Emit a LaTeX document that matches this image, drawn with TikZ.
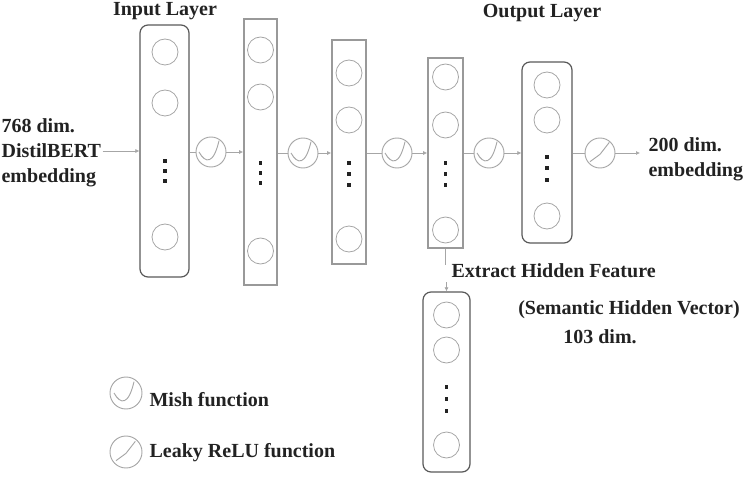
\documentclass[tikz,border=0pt]{standalone}
\usepackage{fontspec}
\setmainfont{Liberation Serif}
\usetikzlibrary{arrows.meta}
\definecolor{ink}{HTML}{222222}
\tikzset{
  lbl/.style={font=\fontsize{15}{18.75}\selectfont\bfseries, text=ink, inner sep=1pt},
  sqbox/.style={draw=gray!80, line width=1.2pt, inner sep=0pt},
  rbox/.style={draw=black!65, line width=0.9pt, rounded corners=6pt, inner sep=0pt},
  neuron/.style={circle, draw=gray!70, line width=0.6pt, minimum size=19.5pt, inner sep=0pt},
  actbase/.style={circle, draw=gray!70, line width=0.7pt, minimum size=22.5pt, inner sep=0pt},
  mish/.style={actbase, path picture={
      \begin{scope}[shift={(path picture bounding box.center)}]
        \draw[gray!70, line width=0.7pt] (-9pt,0pt) .. controls (-4pt,-9pt) and (2pt,-9pt) .. (6pt,8.5pt);
      \end{scope}}},
  leaky/.style={actbase, path picture={
      \begin{scope}[shift={(path picture bounding box.center)}]
        \draw[gray!70, line width=0.7pt] (-7.5pt,-6.5pt) -- (0pt,-1pt) -- (7pt,8pt);
      \end{scope}}},
  conn/.style={gray!70, line width=0.5pt},
  arr/.style={conn, -{Latex[length=3pt,width=3pt]}, draw=gray!70}
}
\newcommand{\vdotsat}[3]{%
  \foreach \yy in {#2,#3} {}%
  \fill[ink] (#1-1.6,#2-1.6) rectangle (#1+1.6,#2+1.6);
}
\begin{document}
\begin{tikzpicture}[x=0.75pt, y=-0.75pt]
\useasboundingbox (0,0) rectangle (748,477);

% titles
\node[lbl] (tin) at (165,11) {Input Layer};
\node[lbl] (tout) at (542,13) {Output Layer};

% boxes
\node[rbox, minimum width=36.75pt, minimum height=189pt] (b1) at (164.5,151) {};
\node[sqbox, minimum width=24.75pt, minimum height=199.5pt] (b2) at (260.5,152) {};
\node[sqbox, minimum width=25.5pt, minimum height=168pt] (b3) at (349,152) {};
\node[sqbox, minimum width=26.25pt, minimum height=142.5pt] (b4) at (445.5,153) {};
\node[rbox, minimum width=37.5pt, minimum height=135.75pt] (b5) at (547,152.5) {};
\node[rbox, minimum width=35.25pt, minimum height=135pt] (b6) at (446.5,382) {};

% neurons
\node[neuron] (n1a) at (165,52) {};
\node[neuron] (n1b) at (165,103) {};
\node[neuron] (n1c) at (165,237) {};
\node[neuron] (n2a) at (260.5,50) {};
\node[neuron] (n2b) at (260.5,97) {};
\node[neuron] (n2c) at (260.5,251) {};
\node[neuron] (n3a) at (349,73) {};
\node[neuron] (n3b) at (349,120) {};
\node[neuron] (n3c) at (349,239) {};
\node[neuron] (n4a) at (445.5,77) {};
\node[neuron] (n4b) at (445.5,125) {};
\node[neuron] (n4c) at (445.5,230) {};
\node[neuron] (n5a) at (547,85) {};
\node[neuron] (n5b) at (547,120) {};
\node[neuron] (n5c) at (547,216) {};
\node[neuron] (n6a) at (446.5,315) {};
\node[neuron] (n6b) at (446.5,350) {};
\node[neuron] (n6c) at (446.5,445) {};

% dots
\foreach \xx/\ya/\yb/\yc in {165/161/171/181, 260.5/163/173/183, 349/163/174/185, 445.5/163/174/185, 547/157/168/180, 446.5/387/399/411} {
  \foreach \yy in {\ya,\yb,\yc}
    \fill[ink] (\xx-1.7,\yy-1.7) rectangle (\xx+1.7,\yy+1.7);
}

% activation functions
\node[mish] (m1) at (211,152) {};
\node[mish] (m2) at (303,153) {};
\node[mish] (m3) at (397,153) {};
\node[mish] (m4) at (489,153) {};
\node[leaky] (lk) at (600,153) {};

% side texts
\node[lbl, anchor=west, align=left] (tin2) at (0,153) {768 dim.\\DistilBERT\\embedding};
\node[lbl, anchor=west, align=left] (tout2) at (647,159) {200 dim.\\embedding};

% connectors
\draw[arr] (tin2.east |- b1.west) -- (b1.west);
\draw[conn] (b1.east |- m1.west) -- (m1.west);
\draw[arr] (m1.east) -- (b2.west |- m1.east);
\draw[conn] (b2.east |- m2.west) -- (m2.west);
\draw[arr] (m2.east) -- (b3.west |- m2.east);
\draw[conn] (b3.east |- m3.west) -- (m3.west);
\draw[arr] (m3.east) -- (b4.west |- m3.east);
\draw[conn] (b4.east |- m4.west) -- (m4.west);
\draw[arr] (m4.east) -- (b5.west |- m4.east);
\draw[conn] (b5.east |- lk.west) -- (lk.west);
\draw[arr] (lk.east) -- (640,153) coordinate (outend);

% extract hidden feature
\coordinate (ex1) at (445.5,265);
\coordinate (ex2) at (446.5,282);
\draw[conn] (b4.south) -- (ex1);
\draw[arr] (ex2) -- (b6.north);
\node[lbl, anchor=west] (tex) at (450,271) {Extract Hidden Feature};
\node[lbl] (tsem) at (629,310) {(Semantic Hidden Vector)};
\node[lbl] (t103) at (600,337) {103 dim.};

% legend
\node[mish, minimum size=24pt] (lm) at (126,393) {};
\node[leaky, minimum size=24pt] (ll) at (126,452) {};
\node[lbl, anchor=west] (tlm) at (148,400) {Mish function};
\node[lbl, anchor=west] (tll) at (148,453) {Leaky ReLU function};
\end{tikzpicture}
\end{document}
